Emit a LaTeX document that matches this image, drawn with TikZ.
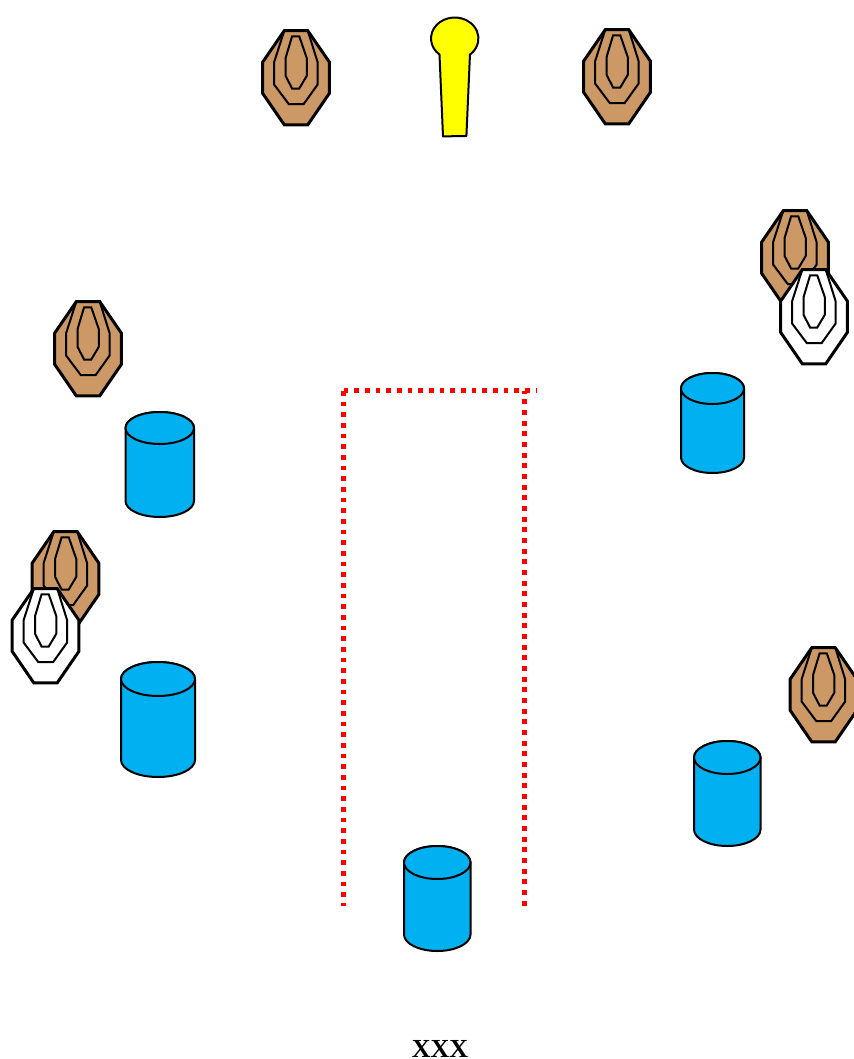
\documentclass[tikz,border=0pt]{standalone}
\usepackage{fontspec}
\setmainfont{Liberation Serif}
\definecolor{tan}{HTML}{CC9966}
\definecolor{cyl}{HTML}{00B0F0}
\definecolor{pinyellow}{HTML}{FFFF00}
\definecolor{dotred}{HTML}{FF0000}
\tikzset{
  x=0.75pt,y=-0.75pt,
  outerline/.style={draw=black,line width=2.25pt,miter limit=4},
  innerline/.style={draw=black,line width=1.5pt},
  cylline/.style={draw=black,line width=1.5pt,fill=cyl},
  redline/.style={draw=dotred,line width=3.75pt,dash pattern=on 3.6pt off 4.4pt},
}
% target: top-left x, y, fill colour
\newcommand{\targetmark}[3]{%
\begin{scope}[shift={(#1+0.7,#2+0.7)},xscale=0.98,yscale=0.98]
\path[outerline,fill=#3] (22,0)--(46,0)--(68,32)--(68,64)--(46,96)--(22,96)--(0,64)--(0,32)--cycle;
\draw[innerline] (22,0)--(11.7,32)--(11.7,55)--(26.7,75)--(41.7,75)--(56,55)--(56,32)--(46,0);
\draw[innerline] (30,5.7)--(37.3,5.7)--(45,28)--(45,46)--(37.3,59)--(30,59)--(23.3,46)--(23.3,28)--cycle;
\end{scope}}
% cylinder: left, right, top, bottom, ry
\newcommand{\cylmark}[5]{%
\path[cylline] (#1,#3+#5)--(#1,#4-#5) arc[start angle=180,end angle=0,x radius={(#2-#1)/2},y radius=#5]--(#2,#3+#5) arc[start angle=0,end angle=-180,x radius={(#2-#1)/2},y radius=#5]--cycle;
\path[cylline] ({(#1+#2)/2},#3+#5) ellipse[x radius={(#2-#1)/2},y radius=#5];}
\begin{document}
\begin{tikzpicture}
\useasboundingbox (0,0) rectangle (853,1059);
\targetmark{262}{30}{tan}
\targetmark{583}{29}{tan}
\targetmark{761}{210}{tan}
\targetmark{780}{269}{white}
\targetmark{54}{301}{tan}
\targetmark{31.5}{531}{tan}
\targetmark{11.5}{588}{white}
\targetmark{789.5}{647}{tan}
% pin
\path[draw=black,line width=1.5pt,fill=pinyellow,line join=round]
  (439.5,54.6) arc[start angle=130,end angle=410,x radius=23.7,y radius=21]
  --(466.4,136)--(443,136.4)--cycle;
\cylmark{125.5}{194}{412}{517}{16}
\cylmark{121}{195}{662}{777}{17}
\cylmark{681}{744}{373}{473}{15.5}
\cylmark{694}{760.5}{741}{846}{16.5}
\cylmark{404}{470.5}{846}{951}{16.5}
\coordinate (hstart) at (343.5,390.5);
\coordinate (hend) at (536,390.5);
\coordinate (ltop) at (343.5,391);
\coordinate (lbot) at (343.5,905.5);
\coordinate (rtop) at (524.5,391);
\coordinate (rbot) at (524.5,905.5);
\draw[redline] (hstart)--(hend);
\draw[redline] (ltop)--(lbot);
\draw[redline] (rbot)--(rtop);
\node[anchor=base,inner sep=0pt,font=\fontsize{19.5pt}{20pt}\selectfont\bfseries] (label) at (440,1057) {XXX};
\end{tikzpicture}
\end{document}
